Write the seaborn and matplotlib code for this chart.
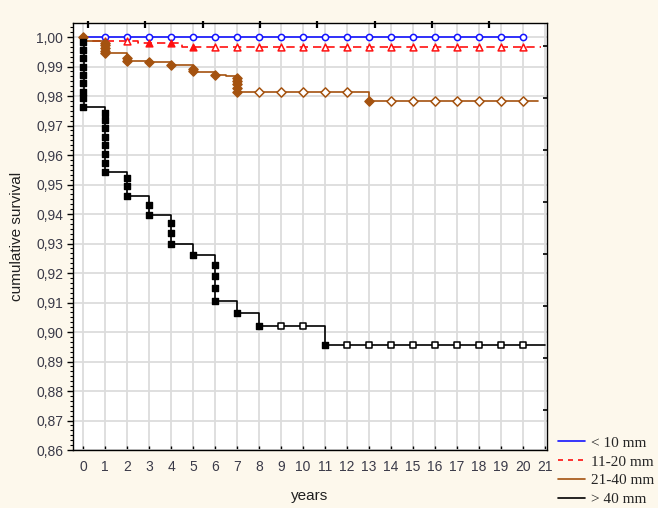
import numpy as np
import pandas as pd
import matplotlib
matplotlib.use("Agg")
import matplotlib.pyplot as plt
from matplotlib.lines import Line2D
from matplotlib.ticker import MultipleLocator, FuncFormatter
import seaborn as sns

# ---------------- data ----------------
series_names = ["< 10 mm", "11-20 mm", "21-40 mm", "> 40 mm"]

# step curves (steps-post): time, survival
blue_t = [0, 20]
blue_s = [1.0, 1.0]

red_t = [0, 0.15, 2.5, 4.5, 20.8]
red_s = [1.0, 0.9987, 0.9980, 0.9967, 0.9967]

brown_t = [0, 0.1, 1, 1, 1, 1, 2, 2, 3, 4, 5, 5, 6, 6.5, 7, 7, 7, 7, 13, 20.7]
brown_s = [1.0, 0.9985, 0.9975, 0.9965, 0.9955, 0.9945, 0.9930, 0.9920, 0.9915,
           0.9905, 0.9892, 0.9880, 0.9871, 0.9868, 0.9855, 0.9840, 0.9828, 0.9815,
           0.9783, 0.9783]

black_t = [0] + [0.03] * 9 + [1] * 8 + [2] * 3 + [3] * 2 + [4] * 3 + [5] + [6] * 4 + [7, 8, 11, 21]
black_s = [1.0,
           0.9984, 0.9956, 0.9928, 0.9900, 0.9871, 0.9843, 0.9815, 0.9792, 0.9762,
           0.9741, 0.9719, 0.9690, 0.9662, 0.9634, 0.9605, 0.9572, 0.9543,
           0.9521, 0.9495, 0.9461,
           0.9430, 0.9397,
           0.9370, 0.9337, 0.9300,
           0.9261,
           0.9227, 0.9190, 0.9150, 0.9106,
           0.9065, 0.9020, 0.8955, 0.8955]

# markers: x, y, filled (1 = event / complete, 0 = censored)
blue_mx = list(range(1, 21))
blue_my = [1.0] * 20
blue_mf = [0] * 20

red_mx = [1, 2, 3, 4, 5] + list(range(6, 21))
red_my = [0.9987, 0.9987, 0.9980, 0.9980, 0.9967] + [0.9967] * 15
red_mf = [0, 0, 1, 1, 1] + [0] * 15

brown_mx = [0, 1, 1, 1, 1, 1, 2, 2, 3, 4, 5, 5, 6, 7, 7, 7, 7, 7,
            8, 9, 10, 11, 12, 13, 14, 15, 16, 17, 18, 19, 20]
brown_my = [1.0, 0.9980, 0.9972, 0.9963, 0.9954, 0.9945, 0.9930, 0.9920, 0.9915,
            0.9905, 0.9892, 0.9885, 0.9871, 0.9860, 0.9850, 0.9840, 0.9828, 0.9815,
            0.9815, 0.9815, 0.9815, 0.9815, 0.9815, 0.9783, 0.9783, 0.9783, 0.9783,
            0.9783, 0.9783, 0.9783, 0.9783]
brown_mf = [1] * 18 + [0] * 5 + [1] + [0] * 7

black_mx = [0] * 9 + [1] * 8 + [2] * 3 + [3] * 2 + [4] * 3 + [5] + [6] * 4 + [7, 8, 9, 10, 11] + list(range(12, 21))
black_my = [0.9984, 0.9956, 0.9928, 0.9900, 0.9871, 0.9843, 0.9815, 0.9792, 0.9762,
            0.9741, 0.9719, 0.9690, 0.9662, 0.9634, 0.9605, 0.9572, 0.9543,
            0.9521, 0.9495, 0.9461,
            0.9430, 0.9397,
            0.9370, 0.9337, 0.9300,
            0.9261,
            0.9227, 0.9190, 0.9150, 0.9106,
            0.9065, 0.9020, 0.9020, 0.9020, 0.8955] + [0.8955] * 9
black_mf = [1] * 32 + [0, 0, 1] + [0] * 9

x_ticks = list(range(0, 22))
y_ticks = [round(0.86 + 0.01 * i, 2) for i in range(15)]

# ---------------- style ----------------
sns.set_theme(style="white")
plt.rcParams["font.family"] = ["Liberation Sans", "DejaVu Sans"]

BG = "#FDF8EC"
c_blue = "#1414FF"
c_red = "#FF1010"
c_brown = "#A4520F"
c_black = "#000000"

XLIM = (-0.4545, 21.09)
YLIM = (0.86, 1.00475)

fig = plt.figure(figsize=(6.58, 5.08), dpi=100, facecolor=BG)
ax = fig.add_axes([73 / 658, 58 / 508, (547 - 73) / 658, (450 - 23) / 508])
ax.set_facecolor("white")

ax.set_xlim(*XLIM)
ax.set_ylim(*YLIM)

ax.set_xticks(x_ticks)
ax.set_yticks(y_ticks)
ax.yaxis.set_minor_locator(MultipleLocator(0.01 / 6))
ax.yaxis.set_major_formatter(FuncFormatter(lambda v, p: f"{v:.2f}".replace(".", ",")))
ax.grid(True, which="major", color="#DCDCDC", linewidth=1.3)
ax.set_axisbelow(True)

for sp in ax.spines.values():
    sp.set_color("black")
    sp.set_linewidth(1.0)

lab_col = "#3a3a48"
ax.tick_params(axis="y", which="major", direction="out", length=4, width=1,
               color="black", labelsize=10, labelcolor=lab_col, pad=3, left=True)
ax.tick_params(axis="y", which="minor", direction="out", length=2.5, width=0.8,
               color="black", left=True)
ax.tick_params(axis="x", which="major", direction="in", length=3, width=1,
               color="black", labelsize=10, labelcolor=lab_col, pad=7,
               bottom=True, top=False)

# unlabelled tick marks on the top edge (x in data units, y in axes fraction)
top_ticks = [0.227 + 2.605 * k for k in range(8)]
ax.vlines(top_ticks, 0.988, 1.004, transform=ax.get_xaxis_transform(),
          colors="black", linewidth=1.6, clip_on=False, zorder=10)

# unlabelled ticks on the right edge
right_ticks = [0.99695 - 0.017627 * k for k in range(8)]
axr = ax.twinx()
axr.set_ylim(*YLIM)
axr.set_yticks(right_ticks)
axr.tick_params(axis="y", direction="in", length=3, width=1.2, color="black",
                right=True, left=False, labelright=False, labelleft=False)
axr.grid(False)
axr.patch.set_visible(False)
for sp in axr.spines.values():
    sp.set_visible(False)

# ---------------- lines ----------------
line_specs = [
    (blue_t, blue_s, c_blue, "-"),
    (red_t, red_s, c_red, (0, (5, 3))),
    (brown_t, brown_s, c_brown, "-"),
    (black_t, black_s, c_black, "-"),
]
for t, s, col, ls in line_specs:
    df = pd.DataFrame({"t": t, "s": s})
    sns.lineplot(data=df, x="t", y="s", ax=ax, color=col, linewidth=1.2,
                 drawstyle="steps-post", estimator=None, sort=False,
                 linestyle=ls, zorder=3)

# ---------------- markers ----------------
marker_specs = [
    (blue_mx, blue_my, blue_mf, c_blue, "o", 20),
    (red_mx, red_my, red_mf, c_red, "^", 24),
    (brown_mx, brown_my, brown_mf, c_brown, "D", 22),
    (black_mx, black_my, black_mf, c_black, "s", 20),
]
for mx, my, mf, col, mk, sz in marker_specs:
    df = pd.DataFrame({"x": mx, "y": my, "f": mf})
    filled = df[df.f == 1]
    opened = df[df.f == 0]
    if len(opened):
        sns.scatterplot(data=opened, x="x", y="y", ax=ax, marker=mk, s=sz,
                        facecolor="white", edgecolor=col, linewidth=1.1, zorder=4)
    if len(filled):
        sns.scatterplot(data=filled, x="x", y="y", ax=ax, marker=mk, s=sz,
                        facecolor=col, edgecolor=col, linewidth=1.0, zorder=5)

ax.set_xlabel("years", fontsize=11, color="#202020", labelpad=11)
ax.set_ylabel("cumulative survival", fontsize=11, color="#202020", labelpad=9)

# ---------------- legend ----------------
handles = [Line2D([0], [0], color=c, linewidth=1.2, linestyle=ls)
           for c, ls in [(c_blue, "-"), (c_red, (0, (3, 3))), (c_brown, "-"), (c_black, "-")]]
leg = fig.legend(handles, series_names, loc="upper left",
                 bbox_to_anchor=(558 / 658, 1 - 436 / 508), frameon=False,
                 prop={"family": "Liberation Serif", "size": 11},
                 handlelength=1.77, handletextpad=0.4, labelspacing=0.34,
                 borderaxespad=0, borderpad=0)

fig.savefig("out.png", dpi=100, facecolor=BG)
